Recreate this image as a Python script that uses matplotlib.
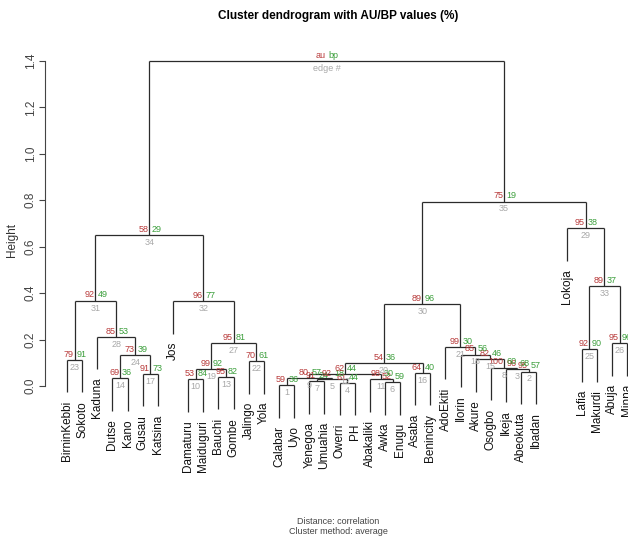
import numpy as np
import matplotlib
matplotlib.use('Agg')
from matplotlib import pyplot as plt
from matplotlib import font_manager

# -----------------------------
# 数据
# -----------------------------
leaf_labels = ['BirninKebbi', 'Sokoto', 'Kaduna', 'Dutse', 'Kano', 'Gusau', 'Katsina',
               'Jos', 'Damaturu', 'Maiduguri', 'Bauchi', 'Gombe', 'Jalingo', 'Yola',
               'Calabar', 'Uyo', 'Yenegoa', 'Umuahia', 'Owerri', 'PH', 'Abakaliki',
               'Awka', 'Enugu', 'Asaba', 'Benincity', 'AdoEkiti', 'Ilorin', 'Akure',
               'Osogbo', 'Ikeja', 'Abeokuta', 'Ibadan', 'Lokoja', 'Lafia', 'Makurdi',
               'Abuja', 'Minna']
# leaf slots along the x axis (one empty slot before Lokoja, as in the picture)
leaf_slots = list(range(32)) + [33, 34, 35, 36, 37]

# hclust-like merge table: negative = leaf (1-based), positive = earlier row (1-based)
merge_left = [-15, -31, -30, -19, -17, 5, 1, -22, -21, 7, -24, 10, -29, -28, -27, -26, 12,
              -9, -11, 18, -13, 20, -8, -4, -6, 24, -3, -1, 28, 29,
              -34, -36, 31, -33, 17, 30]
merge_right = [-16, -32, 2, -20, -18, 4, 6, -23, 8, 9, -25, 11, 3, 13, 14, 15, 16,
               -10, -12, 19, -14, 21, 22, -5, -7, 25, 26, -2, 27, 23,
               -35, -37, 32, 33, 34, 35]
heights = [0.004, 0.062, 0.072, 0.013, 0.021, 0.028, 0.033, 0.017, 0.030, 0.052, 0.056,
           0.099, 0.078, 0.115, 0.135, 0.168, 0.353,
           0.028, 0.039, 0.073, 0.107, 0.185, 0.365, 0.034, 0.052, 0.133, 0.211, 0.112,
           0.367, 0.649,
           0.159, 0.185, 0.430, 0.680, 0.794, 1.400]
au_vals = [59, 95, 96, 61, 91, 92, 80, 52, 98, 62, 64, 54, 100, 82, 85, 99, 89,
           53, 95, 99, 70, 95, 96, 69, 91, 73, 85, 79, 92, 58,
           92, 95, 89, 95, 75, None]
bp_vals = [36, 57, 68, 44, 24, 18, 57, 59, 30, 44, 40, 36, 60, 46, 56, 30, 96,
           84, 82, 92, 61, 81, 77, 36, 73, 39, 53, 91, 49, 29,
           90, 96, 37, 38, 19, None]
edge_ids = [1, 2, 3, 4, 7, 5, 9, 6, 11, 12, 16, 20, 8, 15, 18, 21, 30,
            10, 13, 19, 22, 27, 32, 14, 17, 24, 28, 23, 31, 34,
            25, 26, 33, 29, 35, None]

hang = 0.14  # 0.1 * max height, like plot.hclust

# -----------------------------
# 字体
# -----------------------------
names = {f.name for f in font_manager.fontManager.ttflist}
narrow = 'Liberation Sans Narrow' if 'Liberation Sans Narrow' in names else 'Liberation Sans'
plt.rcParams['font.family'] = ['Liberation Sans', 'DejaVu Sans']

fig = plt.figure(figsize=(6.28, 5.48), dpi=100)
ax = fig.add_axes([45 / 628, 68 / 548, 583 / 628, 430 / 548])
ax.set_xlim((45 - 67) / 15.14, (628 - 67) / 15.14)
ax.set_ylim(-0.405, 1.447)

line_kw = dict(color='#2b2b2b', linewidth=0.9, solid_capstyle='butt')
red = '#b83a3a'
green = '#3c9f3c'
grey = '#a8a8a8'

node_x = []


def child_pos(c):
    if c < 0:
        return leaf_slots[-c - 1], None
    return node_x[c - 1], heights[c - 1]


for i in range(len(heights)):
    h = heights[i]
    xl, hl = child_pos(merge_left[i])
    xr, hr = child_pos(merge_right[i])
    x = (xl + xr) / 2.0
    node_x.append(x)
    ax.plot([xl, xr], [h, h], **line_kw)
    for c, xc, hc in [(merge_left[i], xl, hl), (merge_right[i], xr, hr)]:
        if hc is None:
            ax.plot([xc, xc], [h, h - hang], **line_kw)
            ax.annotate(leaf_labels[-c - 1], (xc, h - hang), xytext=(0, -6),
                        textcoords='offset points', rotation=90, ha='center', va='top',
                        fontsize=8.5, color='#111111')
        else:
            ax.plot([xc, xc], [hc, h], **line_kw)

    if au_vals[i] is None:
        au_t, bp_t, ed_t = 'au', 'bp', 'edge #'
    else:
        au_t, bp_t, ed_t = str(au_vals[i]), str(bp_vals[i]), str(edge_ids[i])
    ax.annotate(au_t, (x, h), xytext=(-0.5, 1), textcoords='offset points',
                ha='right', va='bottom', fontsize=6.5, color=red, family=narrow)
    ax.annotate(bp_t, (x, h), xytext=(1.5, 1), textcoords='offset points',
                ha='left', va='bottom', fontsize=6.5, color=green, family=narrow)
    ax.annotate(ed_t, (x, h), xytext=(0, -2), textcoords='offset points',
                ha='center', va='top', fontsize=6.5, color=grey, family=narrow)

# y axis only
for s in ['top', 'right', 'bottom']:
    ax.spines[s].set_visible(False)
ax.spines['left'].set_bounds(0, 1.4)
ax.spines['left'].set_color('#444444')
ax.spines['left'].set_linewidth(0.8)
ax.set_xticks([])
ax.set_yticks(np.arange(0, 1.41, 0.2))
ax.set_yticklabels(['%.1f' % v for v in np.arange(0, 1.41, 0.2)], rotation=90, va='center')
ax.tick_params(axis='y', length=4, width=0.8, pad=2, labelsize=8.5, colors='#444444')

fig.text(12 / 628, 1 - 240 / 548, 'Height', rotation=90, ha='center', va='center',
         fontsize=8.5, color='#333333')
fig.text(338 / 628, 1 - 16 / 548, 'Cluster dendrogram with AU/BP values (%)',
         ha='center', va='center', fontsize=8.5, fontweight='bold', family=narrow)
fig.text(338 / 628, 1 - 522 / 548, 'Distance: correlation', ha='center', va='center',
         fontsize=6.5, color='#444444', family=narrow)
fig.text(338 / 628, 1 - 532 / 548, 'Cluster method: average', ha='center', va='center',
         fontsize=6.5, color='#444444', family=narrow)

fig.savefig('out.png', dpi=100)
